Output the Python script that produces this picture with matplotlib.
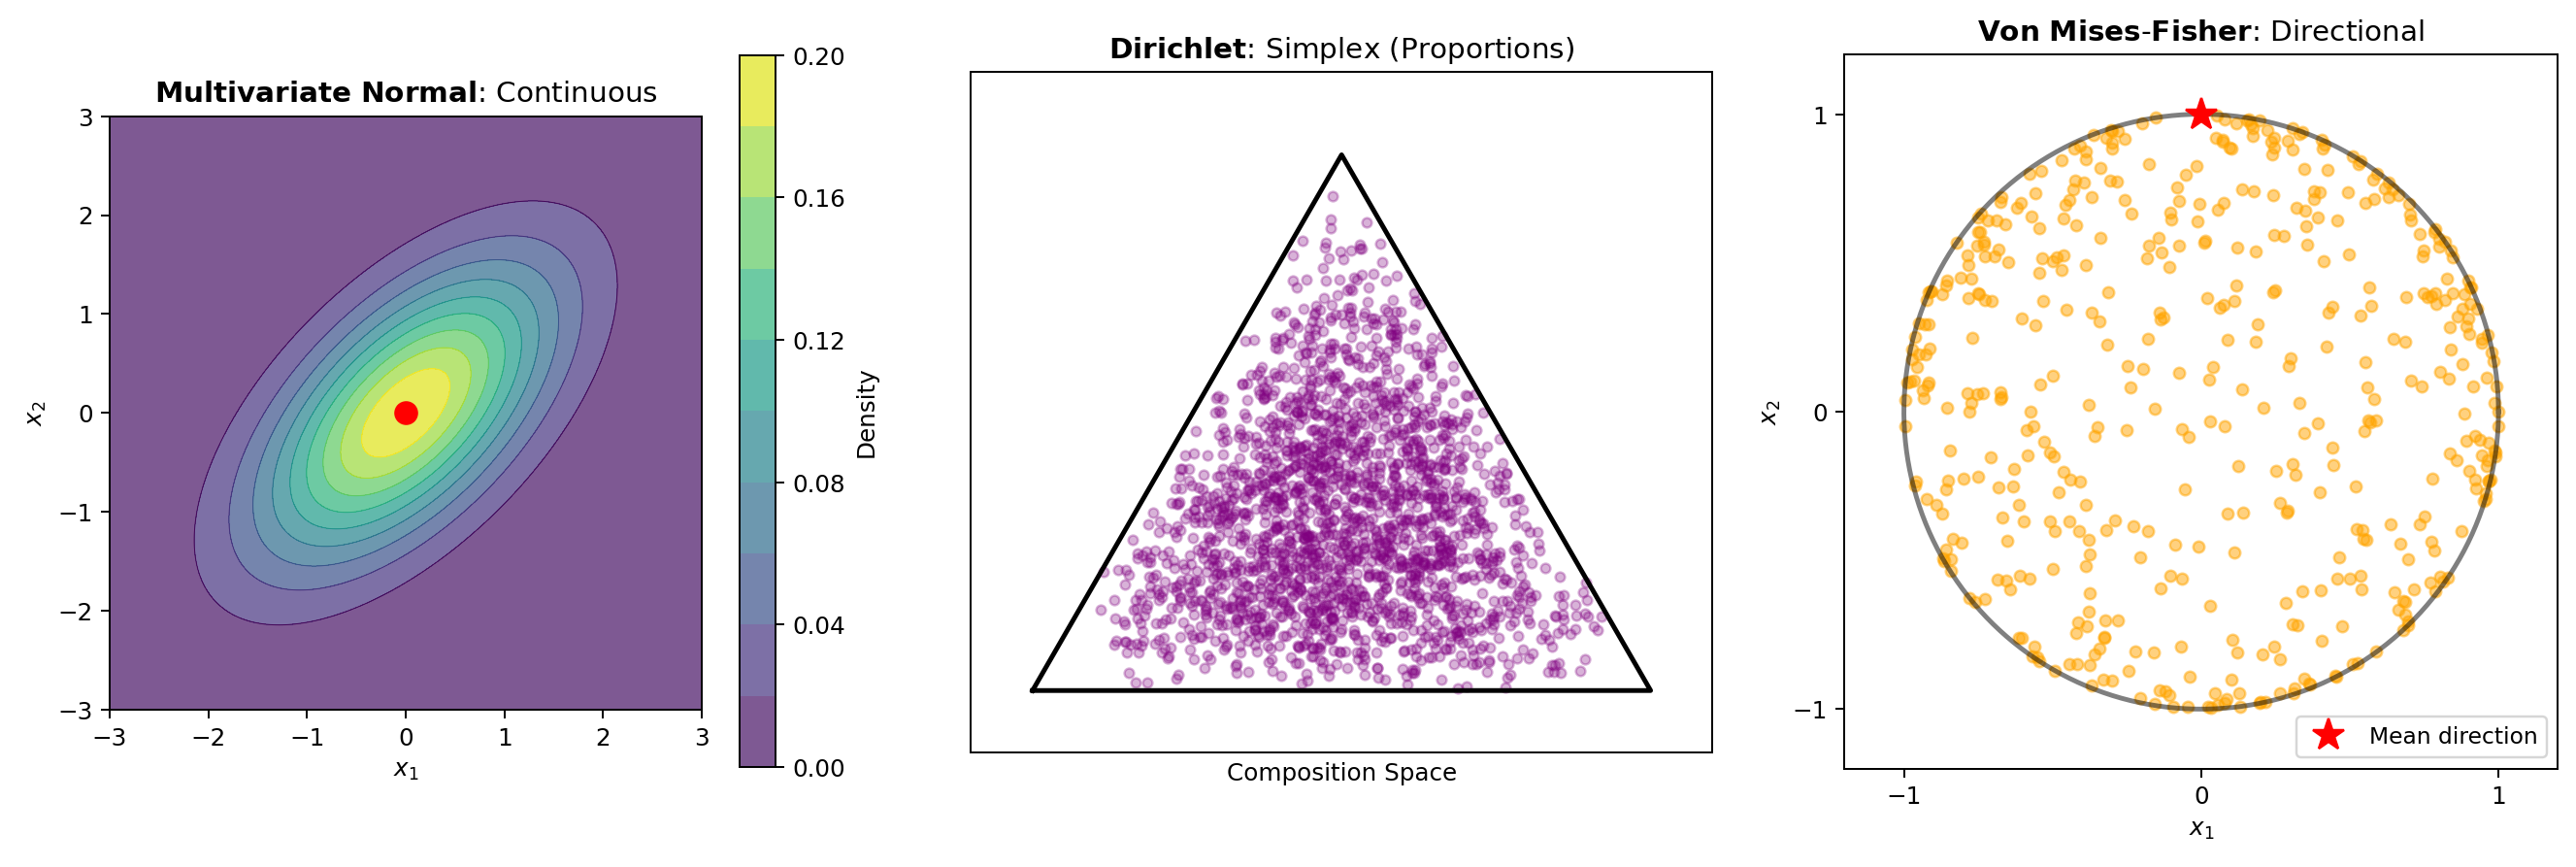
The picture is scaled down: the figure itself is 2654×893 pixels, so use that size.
import numpy as np
import matplotlib
matplotlib.use("Agg")
import matplotlib.pyplot as plt

# ---------------- data ----------------
# Panel 1: multivariate normal parameters and contour levels
mvn_mean = [0.0, 0.0]
mvn_cov = [[1.0, 0.6], [0.6, 1.0]]
mvn_levels = [0.00, 0.02, 0.04, 0.06, 0.08, 0.10, 0.12, 0.14, 0.16, 0.18, 0.20]
mvn_ticks = [-3, -2, -1, 0, 1, 2, 3]
cbar_ticks = [0.00, 0.04, 0.08, 0.12, 0.16, 0.20]

# Panel 2: Dirichlet samples on the simplex
dir_alpha = [2.0, 2.0, 2.0]
dir_n = 2000
triangle_x = [0.0, 1.0, 0.5, 0.0]
triangle_y = [0.0, 0.0, np.sqrt(3) / 2, 0.0]

# Panel 3: von Mises-Fisher samples (3-D, projected onto x1-x2)
vmf_mu = [0.0, 1.0]
vmf_kappa = 0.1
vmf_n = 500
vmf_ticks = [-1, 0, 1]

rng = np.random.default_rng(0)

# ---------------- figure ----------------
W, H = 2654, 893
DPI = W / 15.0
fig = plt.figure(figsize=((W + 0.4) / DPI, (H + 0.4) / DPI), dpi=DPI)


def px_axes(x0, y0, x1, y1):
    return fig.add_axes([x0 / W, 1 - y1 / H, (x1 - x0) / W, (y1 - y0) / H])


# ---- Panel 1 ----
ax1 = px_axes(113, 120, 723, 731)
g = np.linspace(-3, 3, 200)
X, Y = np.meshgrid(g, g)
cov = np.array(mvn_cov)
inv = np.linalg.inv(cov)
det = np.linalg.det(cov)
dx = X - mvn_mean[0]
dy = Y - mvn_mean[1]
q = inv[0, 0] * dx ** 2 + 2 * inv[0, 1] * dx * dy + inv[1, 1] * dy ** 2
Z = np.exp(-0.5 * q) / (2 * np.pi * np.sqrt(det))
cf = ax1.contourf(X, Y, Z, levels=mvn_levels, cmap="viridis", alpha=0.7)
ax1.contour(X, Y, Z, levels=mvn_levels[1:-1], cmap="viridis", linewidths=0.4, alpha=0.9)
ax1.plot(mvn_mean[0], mvn_mean[1], "o", color="red", markersize=9)
ax1.set_xlim(-3, 3)
ax1.set_ylim(-3, 3)
ax1.set_xticks(mvn_ticks)
ax1.set_yticks(mvn_ticks)
ax1.set_xlabel("$x_1$")
ax1.set_ylabel("$x_2$")
ax1.set_title(r"$\bf{Multivariate\ Normal}$: Continuous", fontsize=12)

cax = px_axes(762, 57, 799, 790)
cb = fig.colorbar(cf, cax=cax, ticks=cbar_ticks)
cb.set_label("Density")

# ---- Panel 2 ----
ax2 = px_axes(1000, 74.5, 1764, 775)
P = rng.dirichlet(dir_alpha, dir_n)
sx = P[:, 1] + 0.5 * P[:, 2]
sy = (np.sqrt(3) / 2) * P[:, 2]
ax2.scatter(sx, sy, s=16, color="purple", alpha=0.3)
ax2.plot(triangle_x, triangle_y, color="black", linewidth=2)
ax2.set_xlim(-0.1, 1.1)
ax2.set_ylim(-0.1, 1.0)
ax2.set_xticks([])
ax2.set_yticks([])
ax2.set_xlabel("Composition Space")
ax2.set_title(r"$\bf{Dirichlet}$: Simplex (Proportions)", fontsize=12)

# ---- Panel 3 ----
ax3 = px_axes(1900, 56.7, 2635, 791.7)
u = rng.random(vmf_n)
w = 1 + np.log(u + (1 - u) * np.exp(-2 * vmf_kappa)) / vmf_kappa
phi = rng.uniform(0, 2 * np.pi, vmf_n)
r = np.sqrt(np.clip(1 - w ** 2, 0, None))
vx = r * np.cos(phi)
vy = w
ax3.scatter(vx, vy, s=22, color="orange", alpha=0.5)
t = np.linspace(0, 2 * np.pi, 400)
ax3.plot(np.cos(t), np.sin(t), color="black", alpha=0.5, linewidth=2)
ax3.plot(vmf_mu[0], vmf_mu[1], "*", color="red", markersize=14, linestyle="none",
         label="Mean direction")
ax3.set_xlim(-1.2, 1.2)
ax3.set_ylim(-1.2, 1.2)
ax3.set_xticks(vmf_ticks)
ax3.set_yticks(vmf_ticks)
ax3.set_xlabel("$x_1$")
ax3.set_ylabel("$x_2$")
ax3.legend(loc="lower right", fontsize=9.5)
ax3.set_title(r"$\bf{Von\ Mises}$-$\bf{Fisher}$: Directional", fontsize=12)

fig.savefig("out.png", dpi=DPI)
